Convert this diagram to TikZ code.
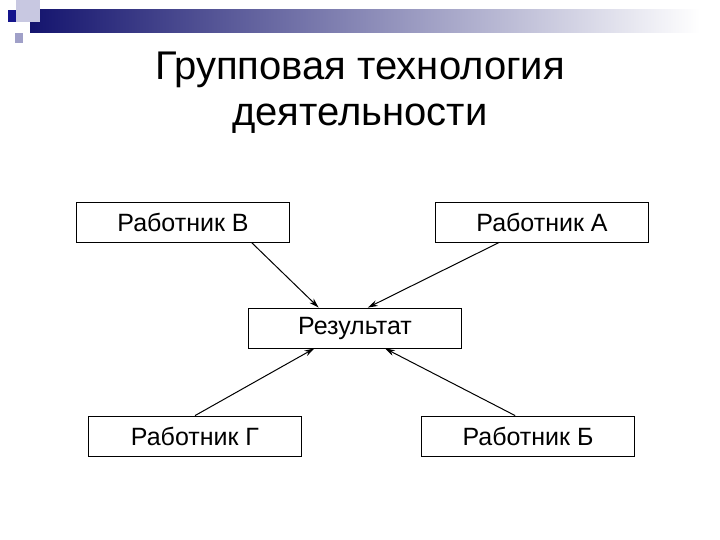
\documentclass[tikz,border=0pt]{standalone}
\usepackage{fontspec}
\setmainfont{Liberation Sans}
\usetikzlibrary{calc,arrows.meta}
\definecolor{navy}{RGB}{20,20,110}
\definecolor{sqA}{RGB}{200,200,225}
\definecolor{sqB}{RGB}{20,20,140}
\definecolor{sqC}{RGB}{160,160,200}
\begin{document}
\begin{tikzpicture}[x=1pt,y=-1pt,
  box/.style={draw,line width=0.8pt,minimum width=213pt,minimum height=40pt,inner sep=0pt,font=\fontsize{25}{30}\selectfont},
  arr/.style={-{Stealth[length=10pt,width=6pt]},line width=1pt}]
\useasboundingbox (0,0) rectangle (720,540);
\shade[left color=navy,right color=white] (30,10) rectangle (700,33);
\fill[sqA] (16,0) rectangle (40,22);
\fill[sqB] (8,10) rectangle (16,22);
\fill[sqC] (15,33) rectangle (23,43);
\node[font=\fontsize{40}{46}\selectfont,align=center] (t) at (360,93) {Групповая технология\\деятельности};
\node[box] (v) at (183,222) {Работник В};
\node[box] (a) at (542,222) {Работник А};
\node[box] (r) at (355,328) {Результат};
\node[box] (g) at (195,436) {Работник Г};
\node[box] (b) at (528,436) {Работник Б};
\coordinate (v1) at ($(v.south west)!0.82!(v.south east)$);
\coordinate (a1) at ($(a.south west)!0.3!(a.south east)$);
\coordinate (g1) at ($(g.north west)!0.5!(g.north east)$);
\coordinate (b1) at ($(b.north west)!0.44!(b.north east)$);
\coordinate (r1) at ($(r.north west)!0.33!(r.north east)$);
\coordinate (r2) at ($(r.north west)!0.56!(r.north east)$);
\coordinate (r3) at ($(r.south west)!0.31!(r.south east)$);
\coordinate (r4) at ($(r.south west)!0.64!(r.south east)$);
\draw[arr] (v1) -- (r1);
\draw[arr] (a1) -- (r2);
\draw[arr] (g1) -- (r3);
\draw[arr] (b1) -- (r4);
\end{tikzpicture}
\end{document}
